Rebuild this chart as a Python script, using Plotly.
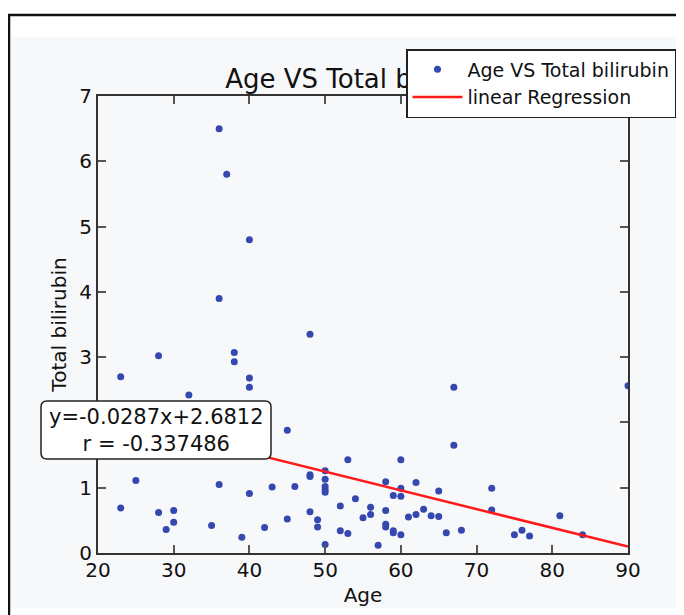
import plotly.graph_objects as go

# ---- data ----
age = [36, 37, 40, 36, 48, 38, 38, 28, 23, 40, 40, 32, 45, 67, 67, 90,
       25, 23, 28, 30, 30, 29, 35, 36, 40, 39, 42, 43,
       46, 45, 48, 48, 48, 49, 49, 50, 50, 50, 50, 50, 50, 52, 52, 53, 53,
       54, 55, 56, 56, 57, 58, 58, 58, 58, 59, 59, 59, 60, 60, 60, 60,
       61, 62, 62, 63, 64, 65, 65, 66, 68, 72, 72, 75, 76, 77, 81, 84]
bilirubin = [6.5, 5.8, 4.8, 3.9, 3.35, 3.07, 2.93, 3.02, 2.7, 2.68, 2.54, 2.42, 1.88, 2.54, 1.65, 2.56,
             1.11, 0.69, 0.62, 0.65, 0.47, 0.36, 0.42, 1.05, 0.91, 0.24, 0.39, 1.01,
             1.02, 0.52, 1.2, 1.17, 0.63, 0.51, 0.40, 1.26, 1.13, 1.02, 0.97, 0.93, 0.13, 0.72, 0.34, 1.43, 0.30,
             0.83, 0.54, 0.70, 0.59, 0.12, 1.09, 0.65, 0.44, 0.40, 0.88, 0.34, 0.31, 1.43, 0.99, 0.87, 0.28,
             0.55, 1.08, 0.59, 0.67, 0.57, 0.95, 0.56, 0.31, 0.35, 0.99, 0.66, 0.28, 0.35, 0.26, 0.57, 0.28]

SLOPE = -0.0287
INTERCEPT = 2.6812
R_VALUE = -0.337486

x_ticks = [20, 30, 40, 50, 60, 70, 80, 90]
y_ticks = [0, 1, 2, 3, 4, 5, 6, 7]

TITLE = "Age VS Total bilirubin"

# ---- layout geometry (window pixels; page body adds an 8px offset) ----
OFF = 8
W, H = 684 - OFF, 615 - OFF
PL, PR, PT, PB = 98, 628, 96, 553          # plot area in window pixels
L, R, T, B = PL - OFF, W - (PR - OFF), PT - OFF, H - (PB - OFF)
PW, PH = PR - PL, PB - PT


def px(xw):
    return (xw - PL) / PW


def py(yw):
    return (PB - yw) / PH


FONT = "DejaVu Sans"
INK = "#111111"

fig = go.Figure()
fig.add_trace(go.Scatter(
    x=age, y=bilirubin, mode="markers", name="Age VS Total bilirubin",
    marker=dict(size=7, color="#3448b0", line=dict(width=0)),
))
line_x = [min(age), max(age)]
line_y = [SLOPE * v + INTERCEPT for v in line_x]
fig.add_trace(go.Scatter(
    x=line_x, y=line_y, mode="lines", name="linear Regression",
    line=dict(color="#ff1a1a", width=2.5),
))

shapes = []
# outer frame and backgrounds
shapes.append(dict(type="rect", xref="paper", yref="paper",
                   x0=px(9), x1=px(720), y0=py(15), y1=py(640),
                   line=dict(color=INK, width=2.5), fillcolor="white", layer="below"))
shapes.append(dict(type="rect", xref="paper", yref="paper",
                   x0=px(11), x1=px(720), y0=py(37), y1=py(608),
                   line=dict(width=0), fillcolor="#f7f8fa", layer="below"))

# rounded text box
bl, br, bt, bb, rr = 41, 271, 401, 459, 6
pts = [
    ("M", (bl + rr, bt)), ("L", (br - rr, bt)), ("Q", (br, bt), (br, bt + rr)),
    ("L", (br, bb - rr)), ("Q", (br, bb), (br - rr, bb)), ("L", (bl + rr, bb)),
    ("Q", (bl, bb), (bl, bb - rr)), ("L", (bl, bt + rr)), ("Q", (bl, bt), (bl + rr, bt)),
]
path = ""
for seg in pts:
    cmd = seg[0]
    coords = " ".join(f"{px(p[0]):.5f},{py(p[1]):.5f}" for p in seg[1:])
    path += f"{cmd}{coords} "
path += "Z"
shapes.append(dict(type="path", xref="paper", yref="paper", path=path,
                   line=dict(color="#222222", width=1.5), fillcolor="white", layer="above"))

# title drawn as a shape label so that the legend box sits on top of it
shapes.append(dict(type="rect", xref="paper", yref="paper",
                   x0=0, x1=1, y0=py(93), y1=py(61),
                   line=dict(width=0), fillcolor="rgba(0,0,0,0)", layer="above",
                   label=dict(text=TITLE, textposition="middle center", padding=0,
                              font=dict(size=26, family=FONT, color=INK))))

fig.update_layout(
    width=W, height=H,
    margin=dict(l=L, r=R, t=T, b=B, autoexpand=False),
    paper_bgcolor="white",
    plot_bgcolor="#f7f8fa",
    font=dict(family=FONT, color=INK, size=19),
    xaxis=dict(range=[20, 90], tickvals=x_ticks, ticktext=[str(v) for v in x_ticks],
               ticks="inside", ticklen=8, tickwidth=1.5, tickcolor="#555555",
               showline=True, linecolor="#333333", linewidth=2, mirror="ticks",
               showgrid=False, zeroline=False, ticklabelstandoff=-2,
               tickfont=dict(size=20, family=FONT, color=INK),
               title=dict(text="Age", font=dict(size=20, family=FONT, color=INK), standoff=7)),
    yaxis=dict(range=[0, 7], tickvals=y_ticks, ticktext=[str(v) for v in y_ticks],
               ticks="inside", ticklen=8, tickwidth=1.5, tickcolor="#555555",
               showline=True, linecolor="#333333", linewidth=2, mirror="ticks",
               showgrid=False, zeroline=False,
               tickfont=dict(size=20, family=FONT, color=INK),
               title=dict(text="Total bilirubin", font=dict(size=20, family=FONT, color=INK), standoff=7)),
    legend=dict(x=px(406), xanchor="left", y=py(49), yanchor="top",
                bgcolor="white", bordercolor="#222222", borderwidth=1.5,
                font=dict(size=19, family=FONT, color=INK),
                itemwidth=50),
    shapes=shapes,
    annotations=[dict(
        xref="paper", yref="paper", x=px((bl + br) / 2), y=py((bt + bb) / 2),
        xanchor="center", yanchor="middle", showarrow=False, align="center",
        text=f"y={SLOPE}x+{INTERCEPT}<br>r = {R_VALUE}",
        font=dict(size=21, family=FONT, color=INK),
    )],
)

fig.write_html("out.html")
